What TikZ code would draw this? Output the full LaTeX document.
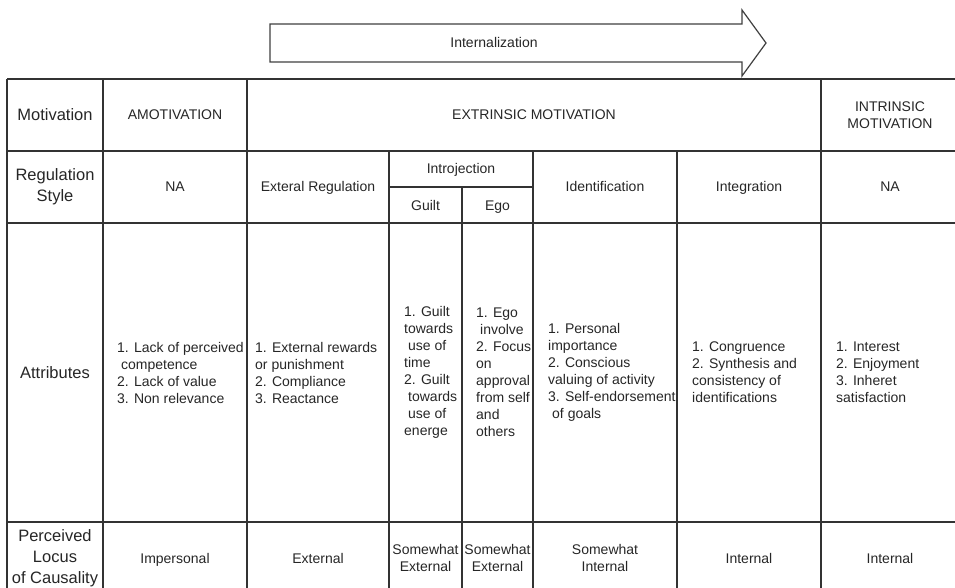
\documentclass[tikz,border=0pt]{standalone}
\usepackage{fontspec}
\setmainfont{Liberation Sans}
\begin{document}
\begin{tikzpicture}[x=1pt,y=-1pt,
  grid/.style={draw=black!80, line width=1.3pt},
  cell/.style={inner sep=0pt, text=black!85, font=\fontsize{14}{17}\selectfont, align=center},
  one/.style={cell, text height=10pt, text depth=0pt},
  head/.style={cell, font=\fontsize{16.5}{21}\selectfont},
  onehead/.style={head, text height=12pt, text depth=0pt},
  attr/.style={cell, align=left, anchor=west}]
\useasboundingbox (0,0) rectangle (955,588);
\clip (0,0) rectangle (955,588);
% arrow
\draw[line width=1.2pt, draw=black!75, fill=white] (270,24) -- (742,24) -- (742,10) -- (766,43) -- (742,76) -- (742,62) -- (270,62) -- cycle;
\node[one] (intern) at (494,43) {Internalization};
% grid
\draw[grid] (7,79) -- (965,79);
\draw[grid] (7,151) -- (965,151);
\draw[grid] (7,223) -- (965,223);
\draw[grid] (7,522) -- (965,522);
\draw[grid] (389,187) -- (533,187);
\draw[grid] (7,79) -- (7,595);
\draw[grid] (103,79) -- (103,595);
\draw[grid] (247,79) -- (247,595);
\draw[grid] (821,79) -- (821,595);
\draw[grid] (389,151) -- (389,595);
\draw[grid] (462,187) -- (462,595);
\draw[grid] (533,151) -- (533,595);
\draw[grid] (677,151) -- (677,595);
% row 1
\node[onehead] (motiv) at (55,115) {Motivation};
\node[one] (amot) at (175,115) {AMOTIVATION};
\node[one] (extr) at (534,115) {EXTRINSIC MOTIVATION};
\node[cell] (intr) at (890,115) {INTRINSIC\\MOTIVATION};
% row 2
\node[head] (regst) at (55,187) {Regulation\\Style};
\node[one] (na1) at (175,187) {NA};
\node[one] (extreg) at (318,187) {Exteral Regulation};
\node[one] (introj) at (461,169) {Introjection};
\node[one] (guilt) at (425.5,205) {Guilt};
\node[one] (ego) at (497.5,205) {Ego};
\node[one] (ident) at (605,187) {Identification};
\node[one] (integ) at (749,187) {Integration};
\node[one] (na2) at (890,187) {NA};
% row 3
\node[onehead] (attrib) at (55,372) {Attributes};
\node[attr] (a1) at (117,372.5) {1. Lack of perceived\\\hspace{4pt}competence\\2. Lack of value\\3. Non relevance};
\node[attr] (a2) at (255,372.5) {1. External rewards\\or punishment\\2. Compliance\\3. Reactance};
\node[attr] (a3) at (404,372.5) {1. Guilt\\towards\\\hspace{4pt}use of\\time\\2. Guilt\\\hspace{4pt}towards\\\hspace{4pt}use of\\energe};
\node[attr] (a4) at (476,372.5) {1. Ego\\\hspace{4pt}involve\\2. Focus\\on\\approval\\from self\\and\\others};
\node[attr] (a5) at (548,372.5) {1. Personal\\importance\\2. Conscious\\valuing of activity\\3. Self-endorsement\\\hspace{4pt}of goals};
\node[attr] (a6) at (692,372.5) {1. Congruence\\2. Synthesis and\\consistency of\\identifications};
\node[attr] (a7) at (836,372.5) {1. Interest\\2. Enjoyment\\3. Inheret\\satisfaction};
% row 4
\node[head] (locus) at (55,558.5) {Perceived\\Locus\\of Causality};
\node[one] (l1) at (175,558) {Impersonal};
\node[one] (l2) at (318,558) {External};
\node[cell] (l3) at (425.5,558) {Somewhat\\External};
\node[cell] (l4) at (497.5,558) {Somewhat\\External};
\node[cell] (l5) at (605,558) {Somewhat\\Internal};
\node[one] (l6) at (749,558) {Internal};
\node[one] (l7) at (890,558) {Internal};
\end{tikzpicture}
\end{document}
